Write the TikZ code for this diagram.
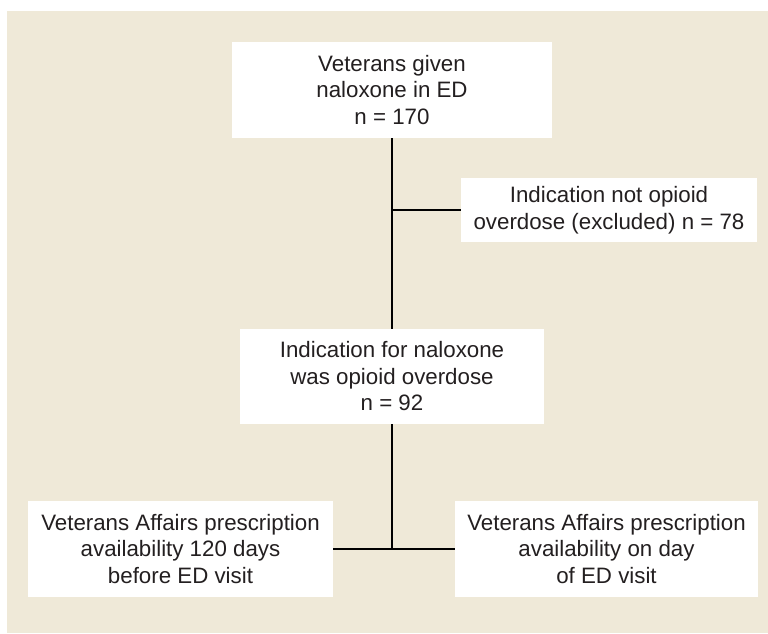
\documentclass[tikz,border=0pt]{standalone}
\definecolor{panelbeige}{RGB}{239,233,216}
\definecolor{inkgray}{RGB}{35,31,32}
\usepackage{fontspec}
\setmainfont{Liberation Sans}
\usepackage{tikz}
\usetikzlibrary{positioning,calc}

\tikzset{
  flowbox/.style={fill=white, inner sep=0pt, align=center, text=inkgray,
    font=\fontsize{22.3}{26.5}\selectfont},
  flowlink/.style={draw=black, line width=2.6pt}
}

\begin{document}
\begin{tikzpicture}[x=1pt, y=-1pt]
            \useasboundingbox (0,0) rectangle (768,633);
            \fill[panelbeige] (7,11) rectangle (768,633);

            \node[flowbox, minimum width=320pt, minimum height=96pt] (given) at (392,90)
                {Veterans given\\naloxone in ED\\n = 170};
            \node[flowbox, minimum width=296pt, minimum height=64pt] (excl) at (609,210)
                {Indication not opioid\\overdose (excluded) n = 78};
            \node[flowbox, minimum width=304pt, minimum height=95pt] (overdose) at (392,376.5)
                {Indication for naloxone\\was opioid overdose\\n = 92};
            \node[flowbox, minimum width=305pt, minimum height=96pt] (before) at (180.5,549)
                {Veterans Affairs prescription\\availability 120 days\\before ED visit};
            \node[flowbox, minimum width=303pt, minimum height=96pt] (dayof) at (606.5,549)
                {Veterans Affairs prescription\\availability on day\\of ED visit};

            % connectors
            \coordinate (split) at (overdose.south |- before.east);
            \draw[flowlink] (given.south) -- (overdose.north);
            \draw[flowlink] (given.south |- excl.west) -- (excl.west);
            \draw[flowlink] (overdose.south) -- (split);
            \draw[flowlink] (before.east) -- (dayof.west);
        \end{tikzpicture}
\end{document}
